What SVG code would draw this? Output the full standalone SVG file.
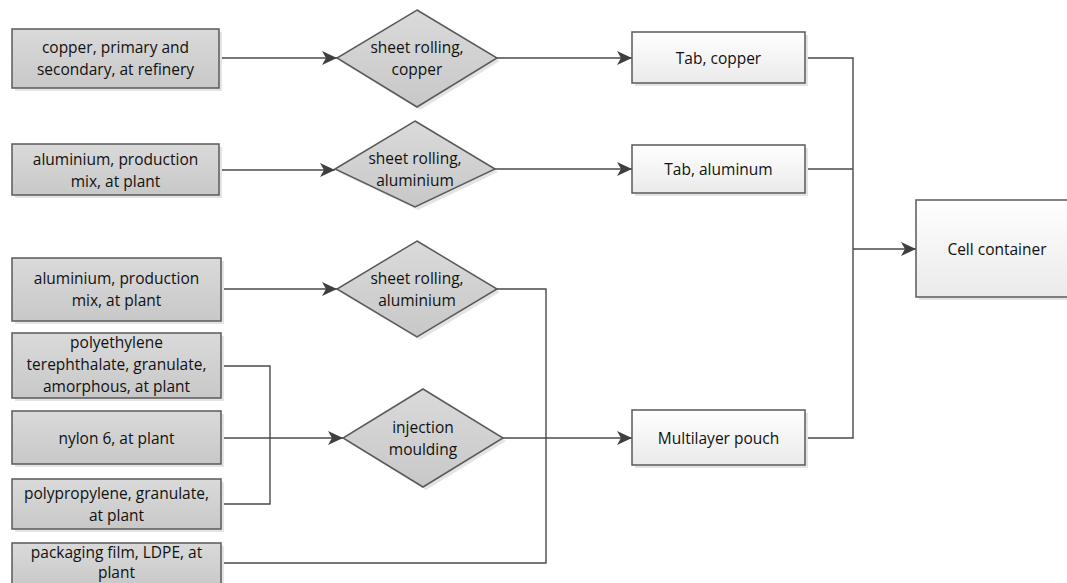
<svg xmlns="http://www.w3.org/2000/svg" width="1067" height="583" viewBox="0 0 1067 583">
<defs>
<linearGradient id="gGray" x1="0" y1="0" x2="0" y2="1"><stop offset="0" stop-color="#dadada"/><stop offset="1" stop-color="#c8c8c8"/></linearGradient>
<linearGradient id="gWhite" x1="0" y1="0" x2="0" y2="1"><stop offset="0" stop-color="#ffffff"/><stop offset="1" stop-color="#eaeaea"/></linearGradient>
<marker id="arr" markerUnits="userSpaceOnUse" markerWidth="16" markerHeight="14" refX="15" refY="7" orient="auto"><path d="M0,0 L15,7 L0,14 L4,7 Z" fill="#3f3f3f"/></marker>
<style>
.g{fill:url(#gGray);stroke:#5a5a5a;stroke-width:1.5}
.w{fill:url(#gWhite);stroke:#5a5a5a;stroke-width:1.5}
.sh{fill:#e4e4e4;stroke:none}
.c{fill:none;stroke:#4a4a4a;stroke-width:1.4}
.a{marker-end:url(#arr)}
text{font-family:"Open Sans","Noto Sans",sans-serif;font-size:15.5px;fill:#111111;text-anchor:middle}
</style>
</defs>
<rect width="1067" height="583" fill="#ffffff"/>
<g id="connectors">
<path class="c a" d="M219,58 H337"/>
<path class="c a" d="M219,170 H335"/>
<path class="c a" d="M221,289 H337"/>
<path class="c a" d="M221,438 H343"/>
<path class="c" d="M221,366 H270 V504 H221"/>
<path class="c a" d="M497,58 H632"/>
<path class="c a" d="M495,169 H632"/>
<path class="c" d="M497,289 H546 V563 H221"/>
<path class="c a" d="M503,438 H632"/>
<path class="c" d="M805,58 H853 V438 H805"/>
<path class="c" d="M805,169 H853"/>
<path class="c a" d="M853,249 H916"/>
</g>
<g id="n-copper">
<rect class="sh" x="15" y="32" width="207" height="59"/>
<rect class="g" x="12" y="29" width="207" height="59"/>
<text x="115.5" y="53">copper, primary and</text>
<text x="115.5" y="75">secondary, at refinery</text>
</g>
<g id="n-al1">
<rect class="sh" x="15" y="147" width="207" height="51"/>
<rect class="g" x="12" y="144" width="207" height="51"/>
<text x="115.5" y="164.5">aluminium, production</text>
<text x="115.5" y="186.5">mix, at plant</text>
</g>
<g id="n-al2">
<rect class="sh" x="15" y="261" width="209" height="63"/>
<rect class="g" x="12" y="258" width="209" height="63"/>
<text x="116.5" y="283.5">aluminium, production</text>
<text x="116.5" y="305.5">mix, at plant</text>
</g>
<g id="n-pet">
<rect class="sh" x="15" y="336" width="209" height="65"/>
<rect class="g" x="12" y="333" width="209" height="65"/>
<text x="116.5" y="347.5">polyethylene</text>
<text x="116.5" y="369.5">terephthalate, granulate,</text>
<text x="116.5" y="391.5">amorphous, at plant</text>
</g>
<g id="n-nylon">
<rect class="sh" x="15" y="414" width="209" height="53"/>
<rect class="g" x="12" y="411" width="209" height="53"/>
<text x="116.5" y="443.5">nylon 6, at plant</text>
</g>
<g id="n-pp">
<rect class="sh" x="15" y="482" width="209" height="50"/>
<rect class="g" x="12" y="479" width="209" height="50"/>
<text x="116.5" y="498.5">polypropylene, granulate,</text>
<text x="116.5" y="520.5">at plant</text>
</g>
<g id="n-ldpe">
<rect class="sh" x="15" y="546" width="209" height="45"/>
<rect class="g" x="12" y="543" width="209" height="45"/>
<text x="116.5" y="557.5">packaging film, LDPE, at</text>
<text x="116.5" y="578">plant</text>
</g>
<g id="d-rollcu">
<polygon class="sh" points="420,13 500,61 420,110 340,61"/>
<polygon class="g" points="417,10 497,58 417,107 337,58"/>
<text x="417" y="53">sheet rolling,</text>
<text x="417" y="75">copper</text>
</g>
<g id="d-rollal1">
<polygon class="sh" points="418,124 498,172 418,210 338,172"/>
<polygon class="g" points="415,121 495,169 415,207 335,169"/>
<text x="415" y="164">sheet rolling,</text>
<text x="415" y="186">aluminium</text>
</g>
<g id="d-rollal2">
<polygon class="sh" points="420,244 500,292 420,340 340,292"/>
<polygon class="g" points="417,241 497,289 417,337 337,289"/>
<text x="417" y="283.5">sheet rolling,</text>
<text x="417" y="305.5">aluminium</text>
</g>
<g id="d-inj">
<polygon class="sh" points="426,392 506,441 426,490 346,441"/>
<polygon class="g" points="423,389 503,438 423,487 343,438"/>
<text x="423" y="432.5">injection</text>
<text x="423" y="454.5">moulding</text>
</g>
<g id="n-tabcu">
<rect class="sh" x="635" y="35" width="173" height="51"/>
<rect class="w" x="632" y="32" width="173" height="51"/>
<text x="718.5" y="63.5">Tab, copper</text>
</g>
<g id="n-tabal">
<rect class="sh" x="635" y="148" width="173" height="48"/>
<rect class="w" x="632" y="145" width="173" height="48"/>
<text x="718.5" y="174.5">Tab, aluminum</text>
</g>
<g id="n-pouch">
<rect class="sh" x="635" y="413" width="173" height="55"/>
<rect class="w" x="632" y="410" width="173" height="55"/>
<text x="718.5" y="443.5">Multilayer pouch</text>
</g>
<g id="n-cell">
<rect class="sh" x="919" y="203" width="162" height="97"/>
<rect class="w" x="916" y="200" width="162" height="97"/>
<text x="997" y="254.5">Cell container</text>
</g>
</svg>
